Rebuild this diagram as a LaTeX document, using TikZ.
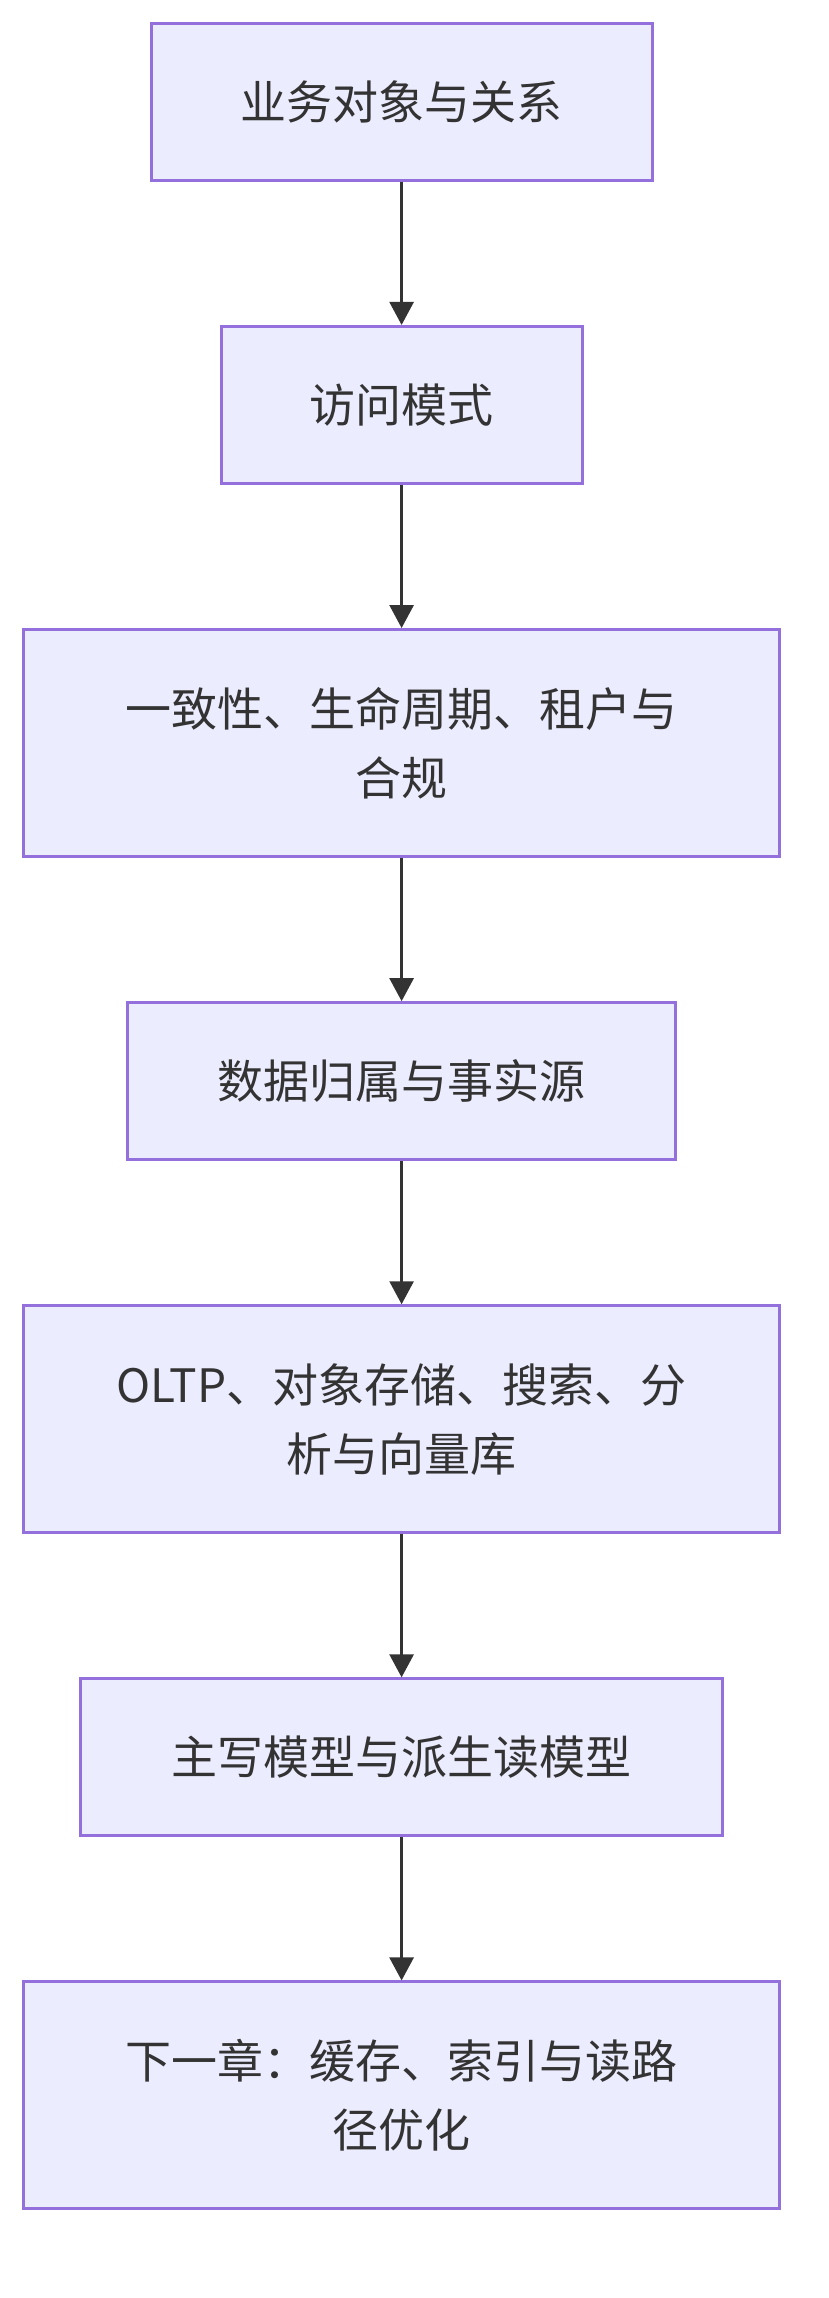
\documentclass[tikz,border=0pt]{standalone}
\usepackage{fontspec}
\setmainfont{Noto Sans CJK SC}
\usetikzlibrary{positioning,arrows.meta}
\definecolor{boxfill}{HTML}{ECECFF}
\definecolor{boxline}{HTML}{9370DB}
\definecolor{ink}{HTML}{333333}

\begin{document}
\begin{tikzpicture}[
  font=\fontsize{46}{69}\selectfont, >={Triangle[length=23pt,width=24pt]},
  node distance=143.2pt,
  box/.style={draw=boxline,fill=boxfill,line width=2.9pt,text=ink,
              align=center,minimum height=157pt,inner sep=0pt},
  wide/.style={box,minimum width=756pt,minimum height=227pt},
  flow/.style={->,draw=ink,line width=2.7pt}]
  \useasboundingbox (0,0) rectangle (828pt,-2298pt);
  % --- chain of design steps, top to bottom ---
  \node[box,minimum width=501pt] (obj) at (401.6pt,-101.8pt) {业务对象与关系};
  \node[box,minimum width=361pt,below=of obj] (acc) {访问模式};
  \node[wide,below=of acc] (cons) {一致性、生命周期、租户与\\合规};
  \node[box,minimum width=548pt,below=of cons] (own) {数据归属与事实源};
  \node[wide,below=of own] (store) {OLTP、对象存储、搜索、分\\析与向量库};
  \node[box,minimum width=642pt,below=of store] (model) {主写模型与派生读模型};
  \node[wide,below=of model] (next) {下一章：缓存、索引与读路\\径优化};
  % --- connectors ---
  \draw[flow] (obj) -- (acc);
  \draw[flow] (acc) -- (cons);
  \draw[flow] (cons) -- (own);
  \draw[flow] (own) -- (store);
  \draw[flow] (store) -- (model);
  \draw[flow] (model) -- (next);
\end{tikzpicture}
\end{document}
